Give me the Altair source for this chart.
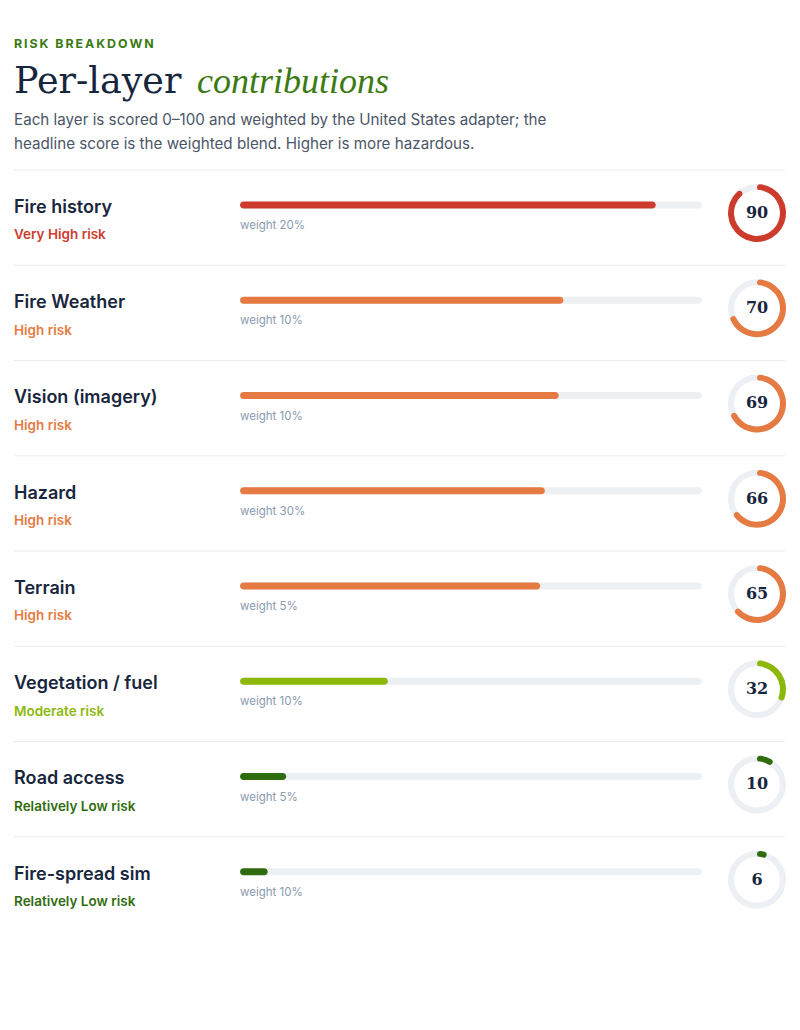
import altair as alt
import pandas as pd
import math

# ---- data ----
layers = ["Fire history", "Fire Weather", "Vision (imagery)", "Hazard", "Terrain",
          "Vegetation / fuel", "Road access", "Fire-spread sim"]
scores = [90, 70, 69, 66, 65, 32, 10, 6]
weights = [20, 10, 10, 30, 5, 10, 5, 10]
risks = ["Very High", "High", "High", "High", "High", "Moderate", "Relatively Low", "Relatively Low"]

risk_levels = ["Very High", "High", "Moderate", "Relatively Low"]
risk_colors = ["#cd3b2c", "#e57a42", "#8cb80c", "#2f6c0e"]

eyebrow = "RISK BREAKDOWN"
title_a = "Per-layer"
title_b = "contributions"
subtitle = ("Each layer is scored 0\u2013100 and weighted by the United States adapter; the\n"
            "headline score is the weighted blend. Higher is more hazardous.")

SANS = "Inter"
NAVY = "#18263d"
GREEN = "#3b7a12"

df = pd.DataFrame({
    "layer": layers,
    "score": scores,
    "weight": weights,
    "risk": risks,
})
df["row"] = range(len(df))
df["risk_label"] = df["risk"] + " risk"
df["weight_label"] = "weight " + df["weight"].astype(str) + "%"
df["zero"] = 0
df["full"] = 100
df["score_label"] = df["score"].astype(str)
# vertical placement inside each row (fractions of a row)
df["y_label"] = df["row"] + 0.398
df["y_risk"] = df["row"] + 0.686
df["y_bar"] = df["row"] + 0.367
df["y_weight"] = df["row"] + 0.589
df["y_donut"] = df["row"] + 0.451

yscale = alt.Scale(domain=[0, 8], range=[162, 924], nice=False, zero=False, padding=0)
xscale = alt.Scale(domain=[0, 100], range=[232, 694], nice=False, zero=False, padding=0)
cscale = alt.Scale(domain=risk_levels, range=risk_colors)
thscale = alt.Scale(domain=[0, 100], range=[0, 2 * math.pi], nice=False, zero=False)


def Y(field):
    return alt.Y(field, scale=yscale, axis=None, stack=False)


base = alt.Chart(df)

sep = base.mark_rule(color="#e9ecf0", strokeWidth=1).encode(
    x=alt.value(6), x2=alt.value(777), y=Y("row:Q"))

label = base.mark_text(align="left", baseline="middle", font=SANS, fontSize=18,
                       fontWeight=600, color=NAVY).encode(
    x=alt.value(6), y=Y("y_label:Q"), text="layer:N")

risk = base.mark_text(align="left", baseline="middle", font=SANS, fontSize=13.5,
                      fontWeight=600).encode(
    x=alt.value(6), y=Y("y_risk:Q"), text="risk_label:N",
    color=alt.Color("risk:N", scale=cscale, legend=None))

track = base.mark_bar(size=7, cornerRadius=3.5, color="#edf0f3", orient="horizontal").encode(
    x=alt.X("zero:Q", scale=xscale, axis=None, stack=False), x2="full:Q", y=Y("y_bar:Q"))

bar = base.mark_bar(size=7, cornerRadius=3.5, orient="horizontal").encode(
    x=alt.X("zero:Q", scale=xscale, axis=None, stack=False), x2="score:Q", y=Y("y_bar:Q"),
    color=alt.Color("risk:N", scale=cscale, legend=None))

wtext = base.mark_text(align="left", baseline="middle", font=SANS, fontSize=11.5,
                       color="#8a9ab0").encode(
    x=alt.value(232), y=Y("y_weight:Q"), text="weight_label:N")

ring = base.mark_arc(radius=29, radius2=23, color="#eceff3").encode(
    theta=alt.Theta("zero:Q", scale=thscale, stack=False), theta2="full:Q",
    x=alt.value(749), y=Y("y_donut:Q"))

arc = base.mark_arc(radius=29, radius2=23, cornerRadius=3).encode(
    theta=alt.Theta("zero:Q", scale=thscale, stack=False), theta2="score:Q",
    x=alt.value(749), y=Y("y_donut:Q"),
    color=alt.Color("risk:N", scale=cscale, legend=None))

num = base.mark_text(align="center", baseline="middle", font="DejaVu Serif", fontSize=16,
                     fontWeight="bold", color=NAVY).encode(
    x=alt.value(749), y=Y("y_donut:Q"), text="score_label:N")

hdr = pd.DataFrame({"eyebrow": ["\u2009".join(eyebrow)], "ta": [title_a], "tb": [title_b],
                    "sub": [subtitle]})
hbase = alt.Chart(hdr)
t_eyebrow = hbase.mark_text(align="left", baseline="middle", font=SANS, fontSize=12.4,
                            fontWeight=700, color=GREEN).encode(
    x=alt.value(6), y=alt.value(36), text="eyebrow:N")
t_a = hbase.mark_text(align="left", baseline="alphabetic", font="DejaVu Serif", fontSize=36.5,
                      fontWeight=300, color=NAVY).encode(
    x=alt.value(6), y=alt.value(85), text="ta:N")
t_b = hbase.mark_text(align="left", baseline="alphabetic", font="Liberation Serif", fontSize=36,
                      fontStyle="italic", color=GREEN).encode(
    x=alt.value(189), y=alt.value(85), text="tb:N")
t_sub = hbase.mark_text(align="left", baseline="alphabetic", font=SANS, fontSize=15.2,
                        lineBreak="\n", lineHeight=24, color="#4b5668").encode(
    x=alt.value(6), y=alt.value(117), text="sub:N")

chart = alt.layer(sep, track, bar, label, risk, wtext, ring, arc, num,
                  t_eyebrow, t_a, t_b, t_sub).properties(
    width=784, height=1014, autosize=alt.AutoSizeParams(type="none"), padding=0,
    background="white"
).configure_view(stroke=None)

chart.save("out.html", embed_options={"renderer": "svg", "actions": False})
